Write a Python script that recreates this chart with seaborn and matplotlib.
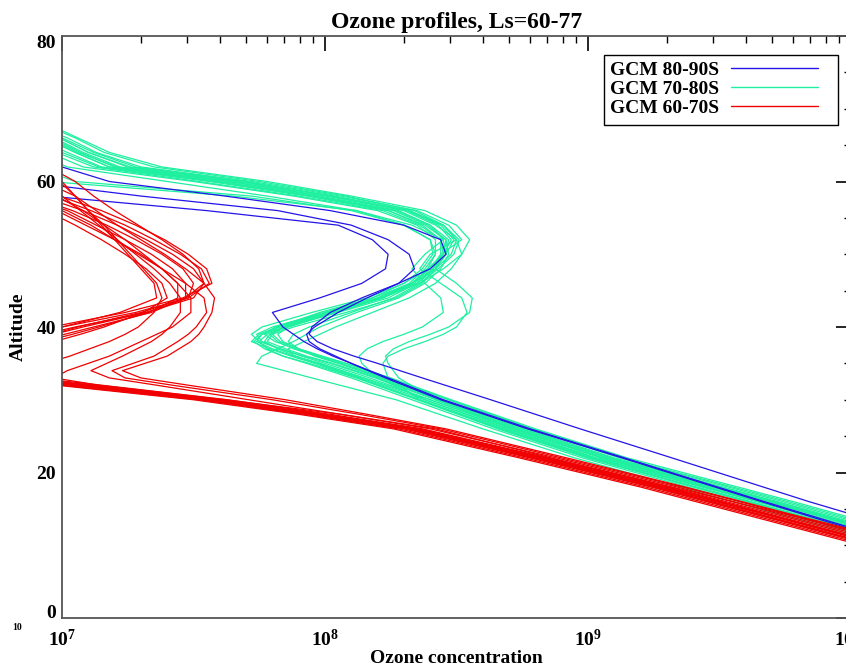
import numpy as np
import pandas as pd
import matplotlib
matplotlib.use("Agg")
import matplotlib.pyplot as plt
import matplotlib.transforms as mtransforms
from matplotlib.lines import Line2D
from matplotlib.patches import Rectangle
import seaborn as sns

# ---------------- data (log10 of ozone concentration per altitude level) ----------------
ALT_GB = [10, 16, 22, 26, 30, 33, 35, 36, 37, 38, 39, 40, 42, 44, 46, 48, 50, 52, 54, 56, 58, 60, 62, 64, 66, 68]
ALT_R = [10, 14, 18, 22, 26, 28, 30, 32, 33, 34, 36, 38, 39, 40, 42, 44, 46, 48, 50, 52, 54, 56, 58, 60, 62]

# GCM 80-90S (blue)
b1 = [10.40, 9.84, 9.32, 8.97, 8.63, 8.37, 8.20, 8.11, 8.03, 7.97, 7.94, 7.95, 8.02, 8.14, 8.28, 8.40, 8.46, 8.44, 8.30, 8.02, 7.62, 7.18, 7.00, 6.85, 6.75, 6.65]
b2 = [10.20, 9.66, 9.13, 8.77, 8.44, 8.23, 8.10, 8.04, 7.98, 7.94, 7.93, 7.96, 8.05, 8.16, 8.28, 8.34, 8.32, 8.24, 8.10, 7.82, 7.30, 6.85, 6.75, 6.65, 6.60, 6.55]
b3 = [10.22, 9.67, 9.14, 8.78, 8.45, 8.24, 8.10, 8.03, 7.97, 7.92, 7.88, 7.84, 7.80, 7.98, 8.14, 8.23, 8.24, 8.18, 8.05, 7.55, 6.95, 6.80, 6.70, 6.62, 6.58, 6.55]

# GCM 70-80S (green)
g01 = [10.30, 9.70, 9.08, 8.74, 8.43, 8.20, 8.03, 7.93, 7.85, 7.78, 7.80, 7.88, 8.08, 8.27, 8.37, 8.42, 8.46, 8.47, 8.40, 8.28, 7.98, 7.63, 7.20, 7.07, 6.96, 6.80]
g02 = [10.25, 9.65, 9.03, 8.70, 8.38, 8.14, 7.98, 7.88, 7.80, 7.74, 7.76, 7.85, 8.05, 8.24, 8.35, 8.41, 8.45, 8.44, 8.36, 8.22, 7.90, 7.52, 7.12, 6.98, 6.85, 6.70]
g03 = [10.15, 9.55, 8.95, 8.60, 8.27, 7.95, 7.74, 7.76, 7.82, 7.88, 7.93, 7.98, 8.12, 8.28, 8.38, 8.44, 8.47, 8.46, 8.38, 8.24, 7.95, 7.60, 7.18, 7.05, 6.93, 6.78]
g04 = [10.28, 9.68, 9.05, 8.72, 8.40, 8.15, 7.98, 7.88, 7.86, 7.92, 7.98, 8.04, 8.18, 8.32, 8.42, 8.48, 8.52, 8.50, 8.42, 8.30, 8.02, 7.70, 7.28, 7.12, 7.00, 6.88]
g05 = [10.32, 9.72, 9.10, 8.76, 8.45, 8.22, 8.06, 7.97, 7.88, 7.82, 7.79, 7.84, 8.02, 8.22, 8.34, 8.41, 8.46, 8.49, 8.44, 8.32, 8.03, 7.68, 7.25, 7.10, 6.99, 6.85]
g06 = [10.20, 9.60, 9.00, 8.66, 8.35, 8.12, 7.96, 7.87, 7.79, 7.72, 7.75, 7.82, 8.02, 8.20, 8.32, 8.38, 8.42, 8.42, 8.35, 8.20, 7.88, 7.50, 7.08, 6.95, 6.85, 6.70]
g07 = [10.38, 9.78, 9.15, 8.80, 8.48, 8.25, 8.08, 7.99, 7.90, 7.83, 7.80, 7.82, 7.98, 8.18, 8.33, 8.42, 8.48, 8.50, 8.45, 8.34, 8.08, 7.75, 7.35, 7.16, 7.05, 6.92]
g08 = [10.26, 9.66, 9.05, 8.71, 8.40, 8.17, 8.00, 7.91, 7.83, 7.76, 7.74, 7.80, 8.00, 8.20, 8.33, 8.40, 8.45, 8.46, 8.39, 8.26, 7.95, 7.58, 7.15, 7.02, 6.90, 6.75]
g09 = [10.30, 9.71, 9.09, 8.75, 8.44, 8.21, 8.05, 7.96, 7.90, 7.86, 7.88, 7.94, 8.10, 8.26, 8.36, 8.43, 8.49, 8.51, 8.45, 8.32, 8.03, 7.66, 7.22, 7.08, 6.97, 6.82]
g10 = [10.18, 9.58, 8.98, 8.64, 8.33, 8.10, 7.93, 7.84, 7.77, 7.73, 7.76, 7.83, 8.00, 8.18, 8.30, 8.37, 8.41, 8.40, 8.30, 8.12, 7.78, 7.40, 7.02, 6.90, 6.80, 6.65]
g11 = [10.24, 9.64, 9.02, 8.68, 8.36, 8.13, 7.97, 7.89, 7.82, 7.77, 7.79, 7.86, 8.04, 8.22, 8.33, 8.39, 8.42, 8.40, 8.30, 8.10, 7.72, 7.05, 6.90, 6.80, 6.70, 6.60]
g12 = [10.34, 9.74, 9.12, 8.78, 8.47, 8.24, 8.08, 7.98, 7.90, 7.84, 7.82, 7.86, 8.03, 8.22, 8.35, 8.42, 8.46, 8.45, 8.33, 8.12, 7.65, 6.95, 6.85, 6.75, 6.65, 6.55]
g13 = [10.29, 9.69, 9.07, 8.73, 8.42, 8.19, 8.02, 7.92, 7.83, 7.75, 7.72, 7.76, 7.95, 8.16, 8.30, 8.39, 8.45, 8.48, 8.43, 8.31, 8.00, 7.64, 7.21, 7.06, 6.95, 6.80]
g14 = [10.36, 9.76, 9.13, 8.79, 8.47, 8.23, 8.06, 7.97, 7.89, 7.81, 7.77, 7.81, 8.00, 8.21, 8.36, 8.45, 8.52, 8.55, 8.50, 8.38, 8.10, 7.78, 7.38, 7.18, 7.06, 6.94]
g15 = [10.21, 9.61, 9.01, 8.67, 8.36, 8.12, 7.94, 7.84, 7.78, 7.75, 7.78, 7.85, 8.03, 8.21, 8.33, 8.40, 8.44, 8.44, 8.37, 8.24, 7.93, 7.56, 7.14, 7.00, 6.88, 6.74]
g16 = [10.22, 9.62, 9.00, 8.66, 8.36, 8.24, 8.22, 8.24, 8.30, 8.38, 8.45, 8.50, 8.54, 8.52, 8.44, 8.36, 8.40, 8.50, 8.45, 8.32, 8.03, 7.68, 7.26, 7.10, 6.99, 6.85]
g17 = [10.28, 9.68, 9.06, 8.72, 8.42, 8.28, 8.24, 8.23, 8.26, 8.32, 8.40, 8.47, 8.55, 8.56, 8.50, 8.42, 8.44, 8.52, 8.47, 8.35, 8.06, 7.72, 7.30, 7.13, 7.02, 6.88]
g18 = [10.25, 9.65, 9.03, 8.69, 8.38, 8.20, 8.14, 8.13, 8.16, 8.22, 8.30, 8.37, 8.45, 8.44, 8.38, 8.33, 8.38, 8.45, 8.40, 8.27, 7.96, 7.60, 7.18, 7.05, 6.94, 6.80]

# GCM 60-70S (red)
r01 = [10.12, 9.70, 9.28, 8.82, 8.34, 7.98, 7.58, 7.08, 6.82, 6.50, 6.60, 6.75, 6.85, 6.96, 7.24, 7.46, 7.57, 7.55, 7.48, 7.39, 7.28, 7.15, 6.99, 6.80, 6.60]
r02 = [10.08, 9.66, 9.24, 8.78, 8.30, 7.94, 7.54, 7.03, 6.78, 6.50, 6.60, 6.78, 6.89, 7.00, 7.28, 7.48, 7.56, 7.53, 7.45, 7.35, 7.24, 7.11, 6.96, 6.78, 6.60]
r03 = [10.14, 9.72, 9.30, 8.84, 8.36, 8.00, 7.60, 7.12, 6.86, 6.55, 6.65, 6.82, 6.93, 7.05, 7.32, 7.50, 7.54, 7.50, 7.42, 7.32, 7.21, 7.08, 6.92, 6.75, 6.60]
r04 = [10.06, 9.64, 9.22, 8.76, 8.28, 7.92, 7.52, 7.00, 6.75, 6.50, 6.65, 6.86, 6.97, 7.08, 7.32, 7.48, 7.50, 7.46, 7.38, 7.28, 7.17, 7.04, 6.88, 6.70, 6.55]
r05 = [10.10, 9.68, 9.26, 8.80, 8.32, 7.97, 7.57, 7.07, 6.80, 6.55, 6.70, 6.90, 7.01, 7.12, 7.34, 7.47, 7.47, 7.42, 7.34, 7.24, 7.13, 7.02, 6.86, 6.70, 6.55]
r06 = [10.16, 9.74, 9.31, 8.85, 8.37, 8.02, 7.63, 7.15, 6.90, 6.58, 6.72, 6.93, 7.04, 7.14, 7.33, 7.44, 7.44, 7.38, 7.30, 7.20, 7.09, 6.98, 6.83, 6.68, 6.55]
r07 = [10.04, 9.62, 9.20, 8.74, 8.26, 7.90, 7.50, 6.98, 6.72, 6.55, 6.75, 6.97, 7.07, 7.16, 7.31, 7.40, 7.38, 7.32, 7.24, 7.15, 7.05, 6.94, 6.80, 6.65, 6.50]
r08 = [10.12, 9.70, 9.27, 8.81, 8.33, 7.98, 7.59, 7.10, 6.85, 6.85, 7.03, 7.18, 7.24, 7.29, 7.35, 7.38, 7.36, 7.31, 7.26, 7.21, 7.16, 7.10, 7.05, 6.99, 6.80]
r09 = [10.09, 9.67, 9.25, 8.79, 8.31, 7.95, 7.55, 7.05, 6.79, 6.50, 6.60, 6.80, 6.90, 7.00, 7.22, 7.36, 7.35, 7.30, 7.25, 7.20, 7.15, 7.10, 7.05, 7.00, 6.85]
r10 = [10.13, 9.71, 9.29, 8.83, 8.35, 7.99, 7.60, 7.11, 6.84, 6.50, 6.62, 6.84, 6.96, 7.06, 7.30, 7.47, 7.54, 7.52, 7.46, 7.38, 7.29, 7.20, 7.12, 7.05, 6.95]
r11 = [10.18, 9.76, 9.34, 8.88, 8.40, 8.06, 7.62, 7.14, 6.97, 7.02, 7.18, 7.30, 7.36, 7.42, 7.49, 7.49, 7.44, 7.38, 7.31, 7.24, 7.16, 7.08, 6.98, 6.85, 6.70]
r12 = [10.20, 9.78, 9.32, 8.86, 8.42, 8.06, 7.71, 7.36, 7.18, 7.11, 7.23, 7.34, 7.38, 7.41, 7.45, 7.45, 7.41, 7.35, 7.28, 7.21, 7.14, 7.07, 7.00, 6.88, 6.75]
r13 = [10.22, 9.79, 9.36, 8.90, 8.44, 8.13, 7.80, 7.42, 7.24, 7.19, 7.35, 7.44, 7.48, 7.51, 7.55, 7.54, 7.47, 7.38, 7.29, 7.20, 7.11, 7.00, 6.85, 6.70, 6.55]
r14 = [10.24, 9.80, 9.37, 8.92, 8.46, 8.16, 7.85, 7.48, 7.30, 7.23, 7.40, 7.49, 7.52, 7.54, 7.57, 7.58, 7.54, 7.47, 7.39, 7.30, 7.21, 7.13, 7.05, 6.93, 6.80]

BLUE_PROFILES = [b1, b2, b3]
GREEN_PROFILES = [g01, g02, g03, g04, g05, g06, g07, g08, g09, g10, g11, g12, g13, g14, g15, g16, g17, g18]
RED_PROFILES = [r01, r02, r03, r04, r05, r06, r07, r08, r09, r10, r11, r12, r13, r14]

GROUPS = ["GCM 80-90S", "GCM 70-80S", "GCM 60-70S"]
COLORS = ["#2414e8", "#1ef0a0", "#f00000"]
X_TICKS = [1e7, 1e8, 1e9, 1e10]
X_TICK_LABELS = [r"$\mathbf{10^{7}}$", r"$\mathbf{10^{8}}$", r"$\mathbf{10^{9}}$", r"$\mathbf{10^{10}}$"]
Y_TICKS = [0, 20, 40, 60, 80]
Y_TICK_LABELS = ["0", "20", "40", "60", "80"]

# ---------------- long-form table ----------------
rows = []
for grp, alts, profs in [(GROUPS[1], ALT_GB, GREEN_PROFILES),
                         (GROUPS[0], ALT_GB, BLUE_PROFILES),
                         (GROUPS[2], ALT_R, RED_PROFILES)]:
    for k, prof in enumerate(profs):
        for a, v in zip(alts, prof):
            rows.append({"group": grp, "profile": f"{grp}-{k}", "alt": a, "conc": 10.0 ** v})
df = pd.DataFrame(rows)

# ---------------- style ----------------
sns.set_style("white")
plt.rcParams["font.family"] = ["Liberation Serif", "DejaVu Serif"]
plt.rcParams["font.weight"] = "bold"
plt.rcParams["text.color"] = "black"
plt.rcParams["axes.labelcolor"] = "black"
plt.rcParams["xtick.color"] = "black"
plt.rcParams["ytick.color"] = "black"
plt.rcParams["mathtext.fontset"] = "custom"
plt.rcParams["mathtext.rm"] = "Liberation Serif"
plt.rcParams["mathtext.bf"] = "Liberation Serif:bold"

W, H = 846, 667
fig = plt.figure(figsize=(W / 100, H / 100), dpi=100)
ax = fig.add_axes([62 / W, (H - 618) / H, (851 - 62) / W, (618 - 36) / H])

palette = dict(zip(GROUPS, COLORS))
sns.lineplot(data=df, x="conc", y="alt", hue="group", units="profile", estimator=None,
             sort=False, palette=palette, linewidth=0.9, legend=False, ax=ax)

ax.set_xscale("log")
ax.set_xlim(1e7, 1e10)
ax.set_ylim(0, 80)
ax.set_xticks(X_TICKS)
ax.set_xticklabels(X_TICK_LABELS)
ax.set_yticks(Y_TICKS)
ax.set_yticklabels(Y_TICK_LABELS)
ax.yaxis.set_minor_locator(matplotlib.ticker.MultipleLocator(5))
ax.xaxis.set_minor_locator(matplotlib.ticker.LogLocator(base=10, subs=np.arange(2, 10)))
ax.xaxis.set_minor_formatter(matplotlib.ticker.NullFormatter())

ax.tick_params(which="both", direction="in", top=True, right=True, colors="black",
               labelsize=14)
ax.tick_params(axis="x", pad=8)
ax.tick_params(axis="y", pad=4.5)
ax.tick_params(which="major", length=11, width=1.2)
ax.tick_params(which="minor", length=5, width=1.0)
for lab in ax.get_xticklabels() + ax.get_yticklabels():
    lab.set_fontweight("bold")
    lab.set_color("black")
# end labels of the y axis sit slightly inside the axis range
ylabs = ax.get_yticklabels()
ylabs[0].set_transform(ylabs[0].get_transform() + mtransforms.ScaledTranslation(0, 7 / 100, fig.dpi_scale_trans))
ylabs[-1].set_transform(ylabs[-1].get_transform() + mtransforms.ScaledTranslation(0, -5 / 100, fig.dpi_scale_trans))

for s in ax.spines.values():
    s.set_color("#555555")
    s.set_linewidth(1.3)
    s.set_visible(True)

ax.set_title("Ozone profiles, Ls=60-77", fontsize=17, fontweight="bold", pad=6, color="black")
ax.set_xlabel("Ozone concentration", fontsize=14, fontweight="bold", labelpad=0, color="black")
ax.set_ylabel("Altitude", fontsize=14, fontweight="bold", labelpad=7, color="black")

# legend: frame drawn as a box, entries text-first like the original
box = Rectangle((604 / W, 1 - 125 / H), 234 / W, 70 / H, transform=fig.transFigure,
                facecolor="white", edgecolor="black", linewidth=1.0, zorder=4, clip_on=False)
ax.add_patch(box)
handles = [Line2D([], [], color=c, lw=1.0) for c in COLORS]
leg = ax.legend(handles, GROUPS, loc="upper left", bbox_to_anchor=(610 / W, 1 - 61 / H),
                bbox_transform=fig.transFigure, borderaxespad=0, borderpad=0,
                markerfirst=False, frameon=False,
                handlelength=4.5, handletextpad=0.6, labelspacing=0.07,
                prop={"family": "Liberation Serif", "weight": "bold", "size": 14})
leg.set_zorder(10)
for t in leg.get_texts():
    t.set_color("black")

fig.text(12 / W, 1 - 628 / H, "10", fontsize=7, fontweight="bold", ha="left", va="center")

fig.savefig("out.png", dpi=100)
